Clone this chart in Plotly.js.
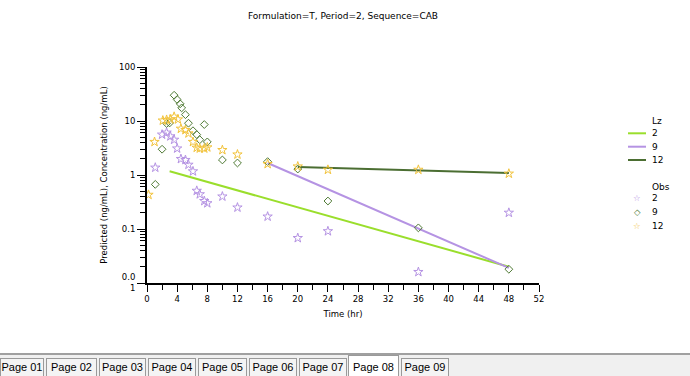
<!DOCTYPE html>
<html>
<head>
<meta charset="utf-8">
<script src="https://cdn.plot.ly/plotly-3.0.1.min.js"></script>
<style>
  html, body { margin:0; padding:0; background:#fff; }
  #wrap { position:relative; width:690px; height:376px; overflow:hidden; }
  #chart { position:absolute; left:0; top:0; width:690px; height:376px; }
  #tabbar { position:absolute; left:0; top:353px; width:690px; height:23px; background:#f0f0f0; border-top:2px solid #a0a0a0; box-sizing:border-box; }
  .tab { position:absolute; top:3px; height:18px; background:#f4f4f4; border:1px solid #9a9a9a; border-bottom:none; box-sizing:border-box;
         font-family:"Liberation Sans", Arial, sans-serif; font-size:11px; line-height:16px; text-align:center; color:#000; white-space:nowrap; overflow:visible; }
  .tab.sel { top:0px; height:23px; background:#fff; line-height:22px; }
</style>
</head>
<body>
<div id="wrap">
  <div id="chart"></div>
  <div id="tabbar"></div>
</div>
<script>
// ---------------- data ----------------
const chartTitle = "Formulation=T, Period=2, Sequence=CAB";
const xTitle = "Time (hr)";
const yTitle = "Predicted (ng/mL), Concentration (ng/mL)";

// Observed concentrations, subject 2 (stars)
const obs2Time = [1.1, 2.0, 2.6, 3.1, 3.6, 4.0, 4.5, 5.1, 5.5, 6.1, 6.6, 7.0, 7.6, 8.0, 10, 12, 16, 20, 24, 36, 48];
const obs2Conc = [1.37, 5.6, 6.1, 5.2, 4.5, 3.1, 1.98, 1.9, 1.55, 1.17, 0.51, 0.44, 0.33, 0.30, 0.40, 0.25, 0.17, 0.068, 0.091, 0.016, 0.20];

// Observed concentrations, subject 9 (diamonds)
const obs9Time = [1.1, 2.0, 2.6, 3.0, 3.6, 4.0, 4.4, 4.6, 5.1, 5.5, 6.1, 6.6, 7.0, 7.6, 8.0, 10, 12, 16, 20, 24, 36, 48];
const obs9Conc = [0.67, 3.0, 9.0, 9.2, 30, 25, 20.8, 17.5, 13.1, 9.1, 6.6, 5.6, 4.5, 8.6, 4.1, 1.9, 1.67, 1.77, 1.29, 0.33, 0.105, 0.018];

// Observed concentrations, subject 12 (stars)
const obs12Time = [0.2, 1.0, 2.1, 2.6, 3.1, 3.6, 4.1, 4.5, 5.1, 5.5, 6.1, 6.6, 7.0, 7.6, 8.0, 10, 12, 16, 20, 24, 36, 48];
const obs12Conc = [0.43, 4.1, 10.2, 10.5, 10.7, 12.0, 10.7, 7.2, 6.8, 5.9, 4.1, 3.2, 3.1, 3.1, 3.25, 2.9, 2.4, 1.6, 1.44, 1.25, 1.25, 1.06];

// Terminal (Lz) regression lines: start/end
const lz2Time = [3, 48];   const lz2Pred = [1.17, 0.020];
const lz9Time = [16, 48];  const lz9Pred = [1.67, 0.019];
const lz12Time = [20, 48]; const lz12Pred = [1.41, 1.09];

const yTickVals = [0.01, 0.1, 1, 10, 100];
const yTickText = ["0.0<br>1", "0.1", "1", "10", "100"];
const legendNames = ["2", "9", "12"];
const tabNames = ["Page 01","Page 02","Page 03","Page 04","Page 05","Page 06","Page 07","Page 08","Page 09"];
const selectedTab = "Page 08";

// ---------------- styles ----------------
const cLz2 = "#9ade2c", cLz9 = "#b593e3", cLz12 = "#4b6e32";
const cObs2 = "#b593e3", cObs9 = "#4f7a34", cObs12 = "#f2c33c";
const FONT = "DejaVu Sans, sans-serif";

const W = 690, H = 376;
const M = {l:147, r:151, t:67, b:93};
const PW = W - M.l - M.r, PH = H - M.t - M.b;
function px(x){ return (x - M.l) / PW; }
function py(y){ return (H - M.b - y) / PH; }

const minorVals = [];
for (let e = -2; e < 2; e++) for (let k = 2; k <= 9; k++) minorVals.push(k * Math.pow(10, e));

const traces = [
  {x: lz2Time, y: lz2Pred, mode:"lines", line:{color:cLz2, width:2}, name:"2", showlegend:false},
  {x: lz9Time, y: lz9Pred, mode:"lines", line:{color:cLz9, width:2}, name:"9", showlegend:false},
  {x: lz12Time, y: lz12Pred, mode:"lines", line:{color:cLz12, width:2}, name:"12", showlegend:false},
  {x: obs2Time, y: obs2Conc, mode:"markers", marker:{symbol:"star-open", size:7, color:cObs2, line:{width:1}}, name:"2", showlegend:false},
  {x: obs9Time, y: obs9Conc, mode:"markers", marker:{symbol:"diamond-open", size:6, color:cObs9, line:{width:1}}, name:"9", showlegend:false},
  {x: obs12Time, y: obs12Conc, mode:"markers", marker:{symbol:"star-open", size:7, color:cObs12, line:{width:1}}, name:"12", showlegend:false}
];

// custom legend
const annotations = [];
const shapes = [];
const legX = 650;
annotations.push({xref:"paper", yref:"paper", x:px(legX), y:py(120.5), xanchor:"left", yanchor:"middle", text:"Lz", showarrow:false, font:{family:FONT, size:9, color:"#000"}});
const lzCols = [cLz2, cLz9, cLz12];
const lzY = [133.3, 146.7, 160];
for (let i = 0; i < 3; i++) {
  shapes.push({type:"line", xref:"paper", yref:"paper", x0:px(628), x1:px(646), y0:py(lzY[i]), y1:py(lzY[i]), line:{color:lzCols[i], width:2}});
  annotations.push({xref:"paper", yref:"paper", x:px(legX), y:py(lzY[i]), xanchor:"left", yanchor:"middle", text:legendNames[i], showarrow:false, font:{family:FONT, size:9, color:"#000"}});
}
annotations.push({xref:"paper", yref:"paper", x:px(legX), y:py(186.7), xanchor:"left", yanchor:"middle", text:"Obs", showarrow:false, font:{family:FONT, size:9, color:"#000"}});
const obsCols = [cObs2, cObs9, cObs12];
const obsSym = ["☆", "◇", "☆"];
const obsY = [198, 212, 225.5];
for (let i = 0; i < 3; i++) {
  annotations.push({xref:"paper", yref:"paper", x:px(637), y:py(obsY[i]), xanchor:"center", yanchor:"middle", text:obsSym[i], showarrow:false, font:{family:FONT, size:8.5, color:obsCols[i]}});
  annotations.push({xref:"paper", yref:"paper", x:px(legX), y:py(obsY[i]), xanchor:"left", yanchor:"middle", text:legendNames[i], showarrow:false, font:{family:FONT, size:9, color:"#000"}});
}

const layout = {
  width: W, height: H,
  margin: M,
  paper_bgcolor:"#fff", plot_bgcolor:"#fff",
  showlegend:false,
  font:{family:FONT, size:8, color:"#000"},
  title:{text: chartTitle, x:0.5, xanchor:"center", xref:"paper", y:1 - 16/H, yanchor:"middle", font:{family:FONT, size:9, color:"#000"}},
  xaxis:{
    range:[0, 52], autorange:false,
    tickmode:"linear", tick0:0, dtick:4,
    ticks:"outside", ticklen:7, tickwidth:1, tickcolor:"#000",
    minor:{tickmode:"linear", tick0:0, dtick:2, ticks:"outside", ticklen:5, tickwidth:1, tickcolor:"#000"},
    showline:true, linecolor:"#000", linewidth:2,
    showgrid:false, zeroline:false,
    tickfont:{family:FONT, size:8.5},
    title:{text:xTitle, font:{family:FONT, size:8.5}, standoff:8}
  },
  yaxis:{
    type:"log", range:[-2, 2], autorange:false,
    tickmode:"array", tickvals:yTickVals, ticktext:yTickText,
    ticks:"outside", ticklen:8, tickwidth:1, tickcolor:"#000",
    minor:{tickmode:"array", tickvals:minorVals, ticks:"outside", ticklen:5, tickwidth:1, tickcolor:"#000"},
    showline:true, linecolor:"#000", linewidth:2,
    showgrid:false, zeroline:false,
    tickfont:{family:FONT, size:8.5},
    title:{text:yTitle, font:{family:FONT, size:8.5}, standoff:10}
  },
  annotations: annotations,
  shapes: shapes
};

Plotly.newPlot("chart", traces, layout, {displayModeBar:false, staticPlot:true});

// tab strip
const tabLefts = [0, 46, 99, 148, 198, 249, 299, 348, 401];
const tabRights = [44, 97, 146, 196, 247, 297, 347, 399, 449];
const bar = document.getElementById("tabbar");
tabNames.forEach((n, i) => {
  const d = document.createElement("div");
  d.className = "tab" + (n === selectedTab ? " sel" : "");
  d.style.left = tabLefts[i] + "px";
  d.style.width = (tabRights[i] - tabLefts[i]) + "px";
  d.textContent = n;
  bar.appendChild(d);
});
</script>
</body>
</html>
